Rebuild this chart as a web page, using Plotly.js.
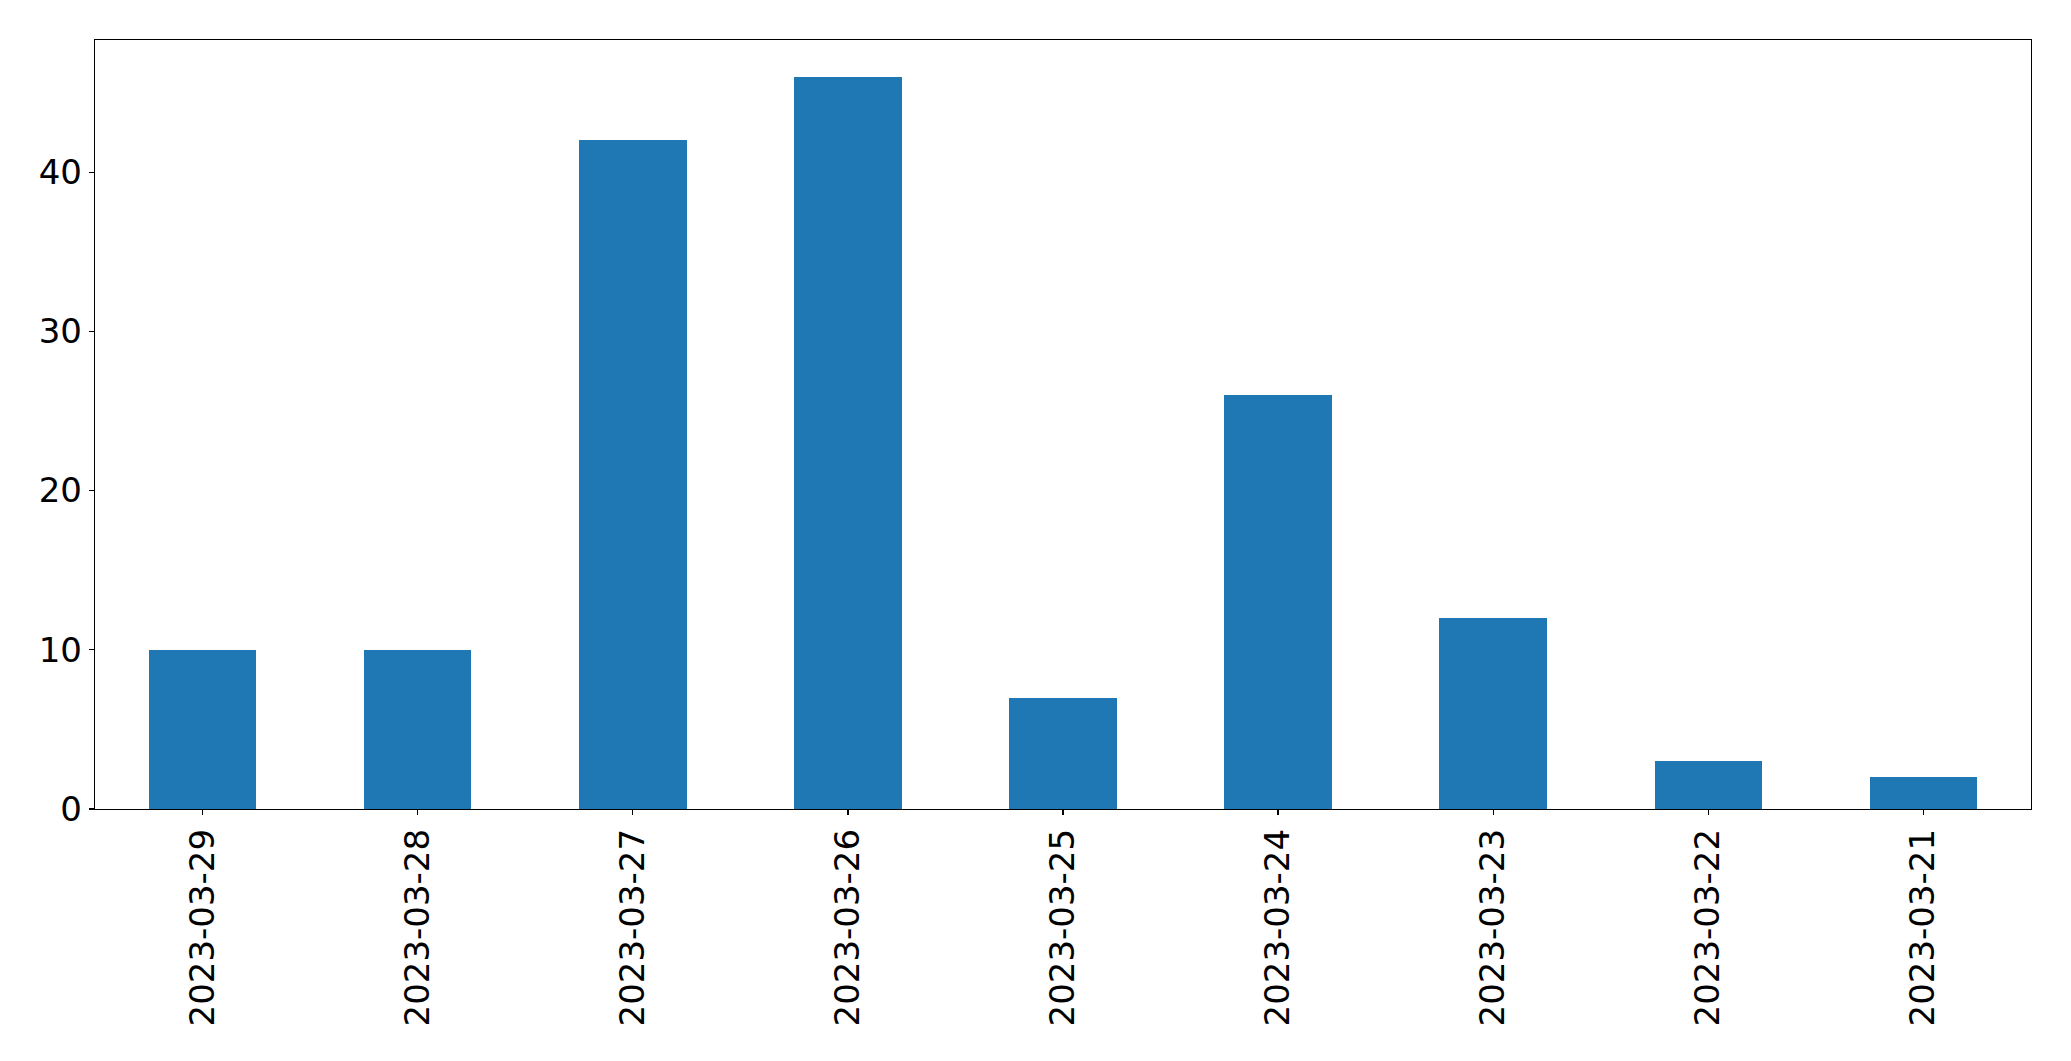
<!DOCTYPE html>
<html>
<head>
<meta charset="utf-8">
<script src="https://cdn.plot.ly/plotly-3.0.1.min.js"></script>
<style>html,body{margin:0;padding:0;background:#fff;}#chart{width:2071px;height:1061px;}</style>
</head>
<body>
<div id="chart"></div>
<script>
const categories = ["2023-03-29","2023-03-28","2023-03-27","2023-03-26","2023-03-25","2023-03-24","2023-03-23","2023-03-22","2023-03-21"];
const values = [10, 10, 42, 46, 7, 26, 12, 3, 2];
const yTicks = [0, 10, 20, 30, 40];

const trace = {
  type: 'bar',
  x: categories,
  y: values,
  width: 0.5,
  marker: {color: '#1f77b4', line: {width: 0}},
  hoverinfo: 'x+y'
};

const font = {family: 'DejaVu Sans, sans-serif', size: 34, color: '#000'};

const layout = {
  width: 2071,
  height: 1061,
  margin: {l: 94.5, r: 40, t: 39.5, b: 252, pad: 0},
  paper_bgcolor: '#fff',
  plot_bgcolor: '#fff',
  showlegend: false,
  bargap: 0,
  font: font,
  xaxis: {
    type: 'category',
    range: [-0.5, categories.length - 0.5],
    tickangle: -90,
    ticks: 'outside',
    ticklen: 5,
    tickwidth: 1.3,
    tickcolor: '#000',
    showline: true,
    linecolor: '#000',
    linewidth: 1.3,
    mirror: true,
    showgrid: false,
    zeroline: false,
    tickfont: font,
    automargin: false
  },
  yaxis: {
    range: [0, 48.3],
    tickvals: yTicks,
    ticktext: yTicks.map(String),
    ticks: 'outside',
    ticklen: 5,
    tickwidth: 1.3,
    tickcolor: '#000',
    showline: true,
    linecolor: '#000',
    linewidth: 1.3,
    mirror: true,
    showgrid: false,
    zeroline: false,
    tickfont: font,
    automargin: false
  }
};

Plotly.newPlot('chart', [trace], layout, {displayModeBar: false, staticPlot: true});
</script>
</body>
</html>
